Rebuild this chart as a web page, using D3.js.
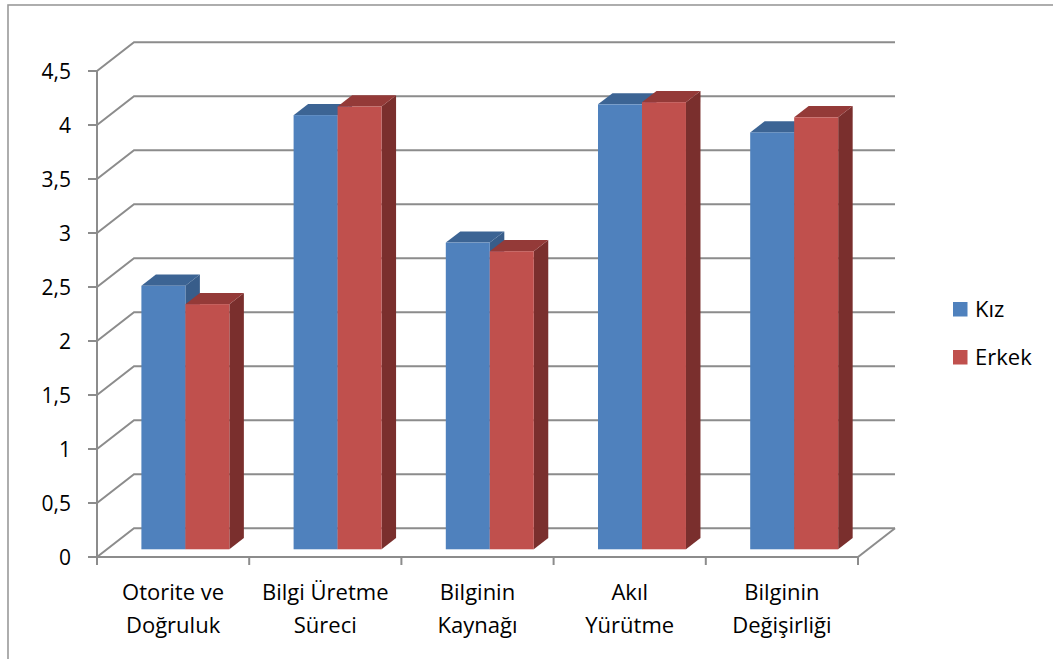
<!DOCTYPE html>
<html>
<head>
<meta charset="utf-8">
<script src="https://cdn.jsdelivr.net/npm/d3@7"></script>
<style>
  html, body { margin: 0; padding: 0; background: #fff; }
  svg { display: block; }
  text { font-family: "Open Sans", "DejaVu Sans", sans-serif; fill: #000; }
</style>
</head>
<body>
<svg id="chart" width="1053" height="659"></svg>
<script>
// Data
const categories = [
  ["Otorite ve", "Doğruluk"],
  ["Bilgi Üretme", "Süreci"],
  ["Bilginin", "Kaynağı"],
  ["Akıl", "Yürütme"],
  ["Bilginin", "Değişirliği"]
];
const seriesNames = ["Kız", "Erkek"];
const kizValues = [2.44, 4.02, 2.84, 4.12, 3.86];
const erkekValues = [2.27, 4.10, 2.76, 4.14, 4.00];
const yTicks = [0, 0.5, 1, 1.5, 2, 2.5, 3, 3.5, 4, 4.5];

const series = [
  { name: seriesNames[0], values: kizValues, front: "#4f81bd", top: "#3c6494", side: "#385d8a" },
  { name: seriesNames[1], values: erkekValues, front: "#c0504d", top: "#943a38", side: "#7a2f2d" }
];

const svg = d3.select("#chart");

// Plot frame (front plane) and depth of the oblique box
const left = 97, right = 858, baseY = 557, topY = 71;
const depth = { dx: 37, dy: -28.7 };
const barShift = { dx: 10, dy: -7.7 };   // bar front plane sits a little behind the front edge
const barDepth = { dx: 14.5, dy: -11.2 };

const y = d3.scaleLinear().domain([0, 4.5]).range([baseY, topY]);
const x = d3.scaleBand().domain(d3.range(categories.length)).range([left, right]).padding(0);

const gridColor = "#8c8c8c";

// Outer border
svg.append("rect")
  .attr("x", 8).attr("y", 5).attr("width", 1100).attr("height", 700)
  .attr("fill", "none").attr("stroke", "#9a9a9a").attr("stroke-width", 1.6);

// Gridlines: diagonal on the side wall, horizontal on the back wall
const grid = svg.append("g").attr("fill", "none").attr("stroke", gridColor).attr("stroke-width", 2);
yTicks.forEach(t => {
  const yf = y(t);
  grid.append("path")
    .attr("d", `M${left},${yf} L${left + depth.dx},${yf + depth.dy} L${right + depth.dx},${yf + depth.dy}`);
});
// Floor right edge
grid.append("path")
  .attr("d", `M${right},${baseY} L${right + depth.dx},${baseY + depth.dy}`);

// Value axis
const axis = svg.append("g").attr("stroke", gridColor).attr("stroke-width", 2);
axis.append("line").attr("x1", left).attr("x2", left).attr("y1", y(4.5)).attr("y2", baseY);
axis.selectAll("line.tick").data(yTicks).join("line")
  .attr("class", "tick")
  .attr("x1", left - 9).attr("x2", left)
  .attr("y1", d => y(d)).attr("y2", d => y(d));

// Category axis
axis.append("line").attr("x1", left).attr("x2", right).attr("y1", baseY).attr("y2", baseY);
const catEdges = d3.range(categories.length + 1).map(i => i < categories.length ? x(i) : right);
axis.selectAll("line.ctick").data(catEdges).join("line")
  .attr("class", "ctick")
  .attr("x1", d => d).attr("x2", d => d)
  .attr("y1", baseY).attr("y2", baseY + 8);

// Tick labels
const fmt = d => String(d).replace(".", ",");
svg.append("g").selectAll("text").data(yTicks).join("text")
  .attr("x", 71).attr("y", d => y(d) + 7.5)
  .attr("text-anchor", "end")
  .attr("font-size", 21)
  .text(fmt);

// Category labels
const catLabels = svg.append("g");
categories.forEach((lines, i) => {
  const cx = x(i) + x.bandwidth() / 2;
  lines.forEach((ln, j) => {
    catLabels.append("text")
      .attr("x", cx).attr("y", 600 + j * 33)
      .attr("text-anchor", "middle")
      .attr("font-size", 22)
      .text(ln);
  });
});

// Bars (drawn as oblique boxes)
const bw = x.bandwidth();
const barW = bw * 0.289;
const barOff = bw * 0.226;
const bars = svg.append("g");
categories.forEach((c, i) => {
  series.forEach((s, k) => {
    const v = s.values[i];
    const x0 = x(i) + barOff + barShift.dx + k * barW;
    const x1 = x0 + barW;
    const yb = y(0) + barShift.dy;
    const yt = y(v) + barShift.dy;
    const g = bars.append("g");
    // side face
    g.append("path")
      .attr("d", `M${x1},${yb} L${x1 + barDepth.dx},${yb + barDepth.dy} L${x1 + barDepth.dx},${yt + barDepth.dy} L${x1},${yt} Z`)
      .attr("fill", s.side);
    // top face
    g.append("path")
      .attr("d", `M${x0},${yt} L${x0 + barDepth.dx},${yt + barDepth.dy} L${x1 + barDepth.dx},${yt + barDepth.dy} L${x1},${yt} Z`)
      .attr("fill", s.top);
    // front face
    g.append("rect")
      .attr("x", x0).attr("y", yt).attr("width", barW).attr("height", yb - yt)
      .attr("fill", s.front);
  });
});

// Legend
const legend = svg.append("g");
series.forEach((s, k) => {
  const ly = 302 + k * 48;
  legend.append("rect").attr("x", 953).attr("y", ly).attr("width", 14.5).attr("height", 14.5).attr("fill", s.front);
  legend.append("text").attr("x", 975).attr("y", ly + 15).attr("font-size", 22).text(s.name);
});
</script>
</body>
</html>
